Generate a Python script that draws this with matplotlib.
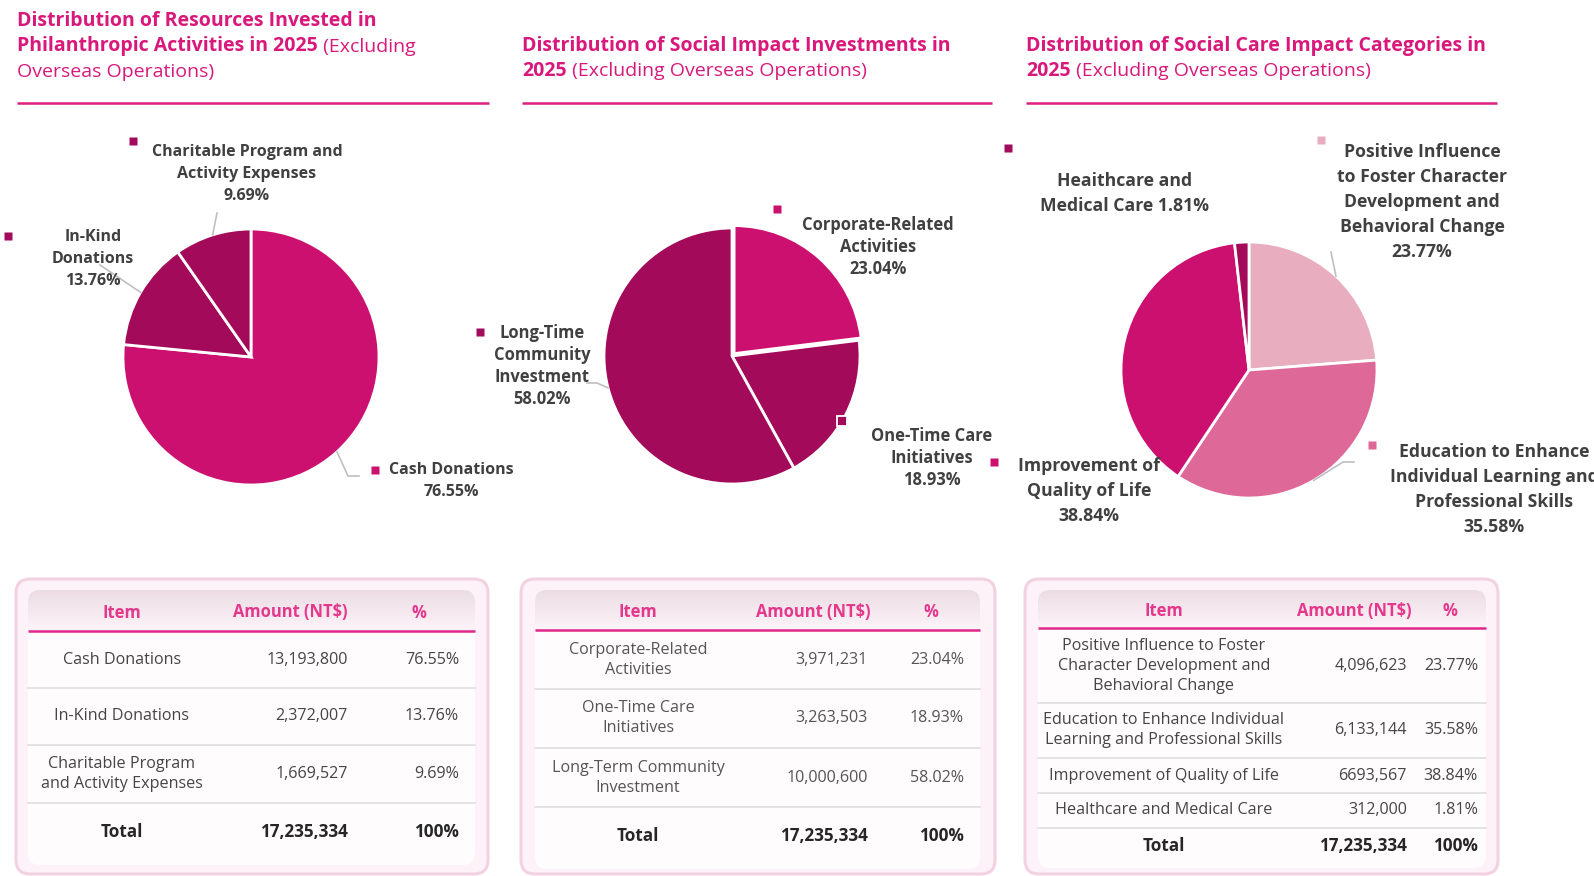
import matplotlib
matplotlib.use('Agg')
import matplotlib.pyplot as plt
import numpy as np
from matplotlib.patches import FancyBboxPatch

plt.rcParams['font.family'] = ['Open Sans', 'DejaVu Sans']

W, H = 1594, 876

# ---- data ----
res_rows = ['Cash Donations', 'In-Kind Donations', 'Charitable Program\nand Activity Expenses']
res_labels = ['Cash Donations', 'In-Kind\nDonations', 'Charitable Program and\nActivity Expenses']
res_amounts = ['13,193,800', '2,372,007', '1,669,527']
res_pcts = [76.55, 13.76, 9.69]

soc_rows = ['Corporate-Related\nActivities', 'One-Time Care\nInitiatives', 'Long-Term Community\nInvestment']
soc_labels = ['Corporate-Related\nActivities', 'One-Time Care\nInitiatives', 'Long-Time\nCommunity\nInvestment']
soc_amounts = ['3,971,231', '3,263,503', '10,000,600']
soc_pcts = [23.04, 18.93, 58.02]

care_rows = ['Positive Influence to Foster\nCharacter Development and\nBehavioral Change',
             'Education to Enhance Individual\nLearning and Professional Skills',
             'Improvement of Quality of Life', 'Healthcare and Medical Care']
care_labels = ['Positive Influence\nto Foster Character\nDevelopment and\nBehavioral Change',
               'Education to Enhance\nIndividual Learning and\nProfessional Skills',
               'Improvement of\nQuality of Life', 'Heaithcare and\nMedical Care']
care_amounts = ['4,096,623', '6,133,144', '6693,567', '312,000']
care_pcts = [23.77, 35.58, 38.84, 1.81]

total_amount = '17,235,334'
total_pct = '100%'
headers = ['Item', 'Amount (NT$)', '%']

MAG = '#CC1070'
DARK = '#A30A5A'
res_colors = [MAG, DARK, DARK]
soc_colors = [MAG, DARK, DARK]
care_colors = ['#E8AEC0', '#DE6898', MAG, DARK]

TITLE_C = '#D9187B'
HDR_C = '#E4388C'
LBL_C = '#404040'
LEAD_C = '#BFBFBF'

fig = plt.figure(figsize=(W / 100, H / 100), dpi=100)


def pie_at(cx, cy, r, vals, colors, explode=None):
    pad = 1.1
    a = fig.add_axes([(cx - r * pad) / W, 1 - (cy + r * pad) / H, 2 * r * pad / W, 2 * r * pad / H])
    a.pie(vals, colors=colors, startangle=90, counterclock=False, explode=explode,
          wedgeprops=dict(edgecolor='white', linewidth=2))
    a.set_xlim(-pad, pad)
    a.set_ylim(-pad, pad)
    a.set_aspect('equal')
    a.axis('off')
    return a


def edge_pt(cx, cy, r, vals, i):
    fr = np.array(vals) / sum(vals)
    m = np.cumsum(fr)[i] - fr[i] / 2
    ang = np.deg2rad(90 - 360 * m)
    return cx + r * np.cos(ang), cy - r * np.sin(ang)


P1 = (251, 357, 128)
P2 = (732, 356, 128)
P3 = (1249, 370, 128)
pie_at(*P1, res_pcts, res_colors)
pie_at(*P2, soc_pcts, soc_colors, explode=[0.025, 0, 0])
pie_at(*P3, care_pcts, care_colors)

ax = fig.add_axes([0, 0, 1, 1])
ax.set_xlim(0, W)
ax.set_ylim(H, 0)
ax.axis('off')
renderer = fig.canvas.get_renderer()


def lines_text(x, y0, text, step, **kw):
    for i, ln in enumerate(text.split('\n')):
        ax.text(x, y0 + i * step, ln, ha='center', va='center', **kw)


def title(x, y0, lines, x1):
    for i, parts in enumerate(lines):
        cx = x
        y = y0 + i * 25.5
        for txt, wt in parts:
            t = ax.text(cx, y, txt, fontsize=14, fontweight=wt, color=TITLE_C,
                        ha='left', va='center')
            bb = t.get_window_extent(renderer)
            cx = ax.transData.inverted().transform((bb.x1, bb.y1))[0]
    ax.plot([x, x1], [103, 103], color='#DE1F80', lw=1.8, solid_capstyle='butt')


title(17, 21, [[('Distribution of Resources Invested in', 'bold')],
               [('Philanthropic Activities in 2025', 'bold'), (' (Excluding', 'normal')],
               [('Overseas Operations)', 'normal')]], 489)
title(522, 46, [[('Distribution of Social Impact Investments in', 'bold')],
                [('2025', 'bold'), (' (Excluding Overseas Operations)', 'normal')]], 992)
title(1026, 46, [[('Distribution of Social Care Impact Categories in', 'bold')],
                 [('2025', 'bold'), (' (Excluding Overseas Operations)', 'normal')]], 1497)


def marker(x, y, c, edge=False):
    if edge:
        ax.plot([x], [y], marker='s', ms=6.5, color=c, mec='white', mew=1.3)
    else:
        ax.plot([x], [y], marker='s', ms=5.5, color=c, mec='none')


def leader(p, *pts):
    xs = [p[0]] + [q[0] for q in pts]
    ys = [p[1]] + [q[1] for q in pts]
    ax.plot(xs, ys, color=LEAD_C, lw=1.2)


lbl1 = dict(fontsize=11.5, fontweight='bold', color=LBL_C)
lbl2 = dict(fontsize=11.9, fontweight='bold', color=LBL_C)
lbl3 = dict(fontsize=12.7, fontweight='bold', color=LBL_C)

# pie 1 labels
lines_text(451, 470, f'{res_labels[0]}\n{res_pcts[0]:.2f}%', 22, **lbl1)
marker(375, 470, res_colors[0])
leader(edge_pt(*P1, res_pcts, 0), (348, 476), (359, 476))
lines_text(93, 237, f'{res_labels[1]}\n{res_pcts[1]:.2f}%', 22, **lbl1)
marker(8, 236, res_colors[1])
leader(edge_pt(*P1, res_pcts, 1), (100, 265))
lines_text(247, 152, f'{res_labels[2]}\n{res_pcts[2]:.2f}%', 22, **lbl1)
marker(133, 141, res_colors[2])
leader(edge_pt(*P1, res_pcts, 2), (217, 213))

# pie 2 labels
lines_text(878, 225, f'{soc_labels[0]}\n{soc_pcts[0]:.2f}%', 22, **lbl2)
marker(777, 209, soc_colors[0])
lines_text(932, 436, f'{soc_labels[1]}\n{soc_pcts[1]:.2f}%', 22, **lbl2)
marker(842, 421, soc_colors[1], edge=True)
lines_text(542, 333, f'{soc_labels[2]}\n{soc_pcts[2]:.2f}%', 22, **lbl2)
marker(480, 332, soc_colors[2])
leader(edge_pt(*P2, soc_pcts, 2), (597, 383), (587, 383))

# pie 3 labels
lines_text(1422, 152, f'{care_labels[0]}\n{care_pcts[0]:.2f}%', 25, **lbl3)
marker(1321, 140, care_colors[0])
leader(edge_pt(*P3, care_pcts, 0), (1331, 252))
lines_text(1494, 452, f'{care_labels[1]}\n{care_pcts[1]:.2f}%', 25, **lbl3)
marker(1372, 445, care_colors[1])
leader(edge_pt(*P3, care_pcts, 1), (1343, 462), (1354, 462))
lines_text(1089, 466, f'{care_labels[2]}\n{care_pcts[2]:.2f}%', 25, **lbl3)
marker(994, 462, care_colors[2])
lines_text(1125, 181, f'{care_labels[3]} {care_pcts[3]:.2f}%', 25, **lbl3)
marker(1008, 148, care_colors[3])


# ---- tables ----
def table(box, inner, hdr_top, hdr_line, seps, bottom, cols, rows, amounts, pcts, txt_c):
    bx0, by0, bx1, by1 = box
    ix0, ix1 = inner
    ax.add_patch(FancyBboxPatch((bx0, by0), bx1 - bx0, by1 - by0,
                                boxstyle='round,pad=0,rounding_size=14',
                                fc='#FCF2F7', ec='#F2D2E1', lw=2.2, zorder=1))
    ax.add_patch(FancyBboxPatch((ix0, hdr_top), ix1 - ix0, bottom + 4 - hdr_top,
                                boxstyle='round,pad=0,rounding_size=12',
                                fc='#FFFCFD', ec='none', zorder=1.5))
    clip = FancyBboxPatch((ix0, hdr_top), ix1 - ix0, hdr_line - hdr_top + 12,
                          boxstyle='round,pad=0,rounding_size=12', fc='none', ec='none')
    ax.add_patch(clip)
    grad = np.linspace(0, 1, 64)[:, None]
    top = np.array([0.925, 0.865, 0.895])
    bot = np.array([0.990, 0.955, 0.972])
    img = top + (bot - top) * grad[..., None]
    img = np.repeat(img, 2, axis=1)
    im = ax.imshow(img, extent=(ix0, ix1, hdr_line, hdr_top), origin='upper',
                   aspect='auto', zorder=2, interpolation='bilinear')
    im.set_clip_path(clip)
    ax.set_xlim(0, W)
    ax.set_ylim(H, 0)
    ax.plot([ix0, ix1], [hdr_line, hdr_line], color='#E0268A', lw=1.8, zorder=3,
            solid_capstyle='butt')
    for s in seps:
        ax.plot([ix0, ix1], [s, s], color='#DCDCDC', lw=1.1, zorder=3)

    c_item, c_amt_h, c_amt_r, c_pct_h, c_pct_r = cols
    hy = (hdr_top + hdr_line) / 2 + 2
    hk = dict(fontsize=11.9, fontweight='bold', color=HDR_C, ha='center', va='center', zorder=4)
    ax.text(c_item, hy, headers[0], **hk)
    ax.text(c_amt_h, hy, headers[1], **hk)
    ax.text(c_pct_h, hy, headers[2], **hk)

    edges = [hdr_line] + list(seps) + [bottom]
    rk = dict(fontsize=11.6, color=txt_c, va='center', zorder=4)
    for i, (name, amt, p) in enumerate(zip(rows, amounts, pcts)):
        yc = (edges[i] + edges[i + 1]) / 2
        n = name.count('\n') + 1
        for j, ln in enumerate(name.split('\n')):
            ax.text(c_item, yc + (j - (n - 1) / 2) * 20, ln, ha='center', **rk)
        ax.text(c_amt_r, yc, amt, ha='right', **rk)
        ax.text(c_pct_r, yc, f'{p:.2f}%', ha='right', **rk)
    yc = (edges[-2] + edges[-1]) / 2
    tk = dict(fontsize=12.3, fontweight='bold', color='#262626', va='center', zorder=4)
    ax.text(c_item, yc, 'Total', ha='center', **tk)
    ax.text(c_amt_r, yc, total_amount, ha='right', **tk)
    ax.text(c_pct_r, yc, total_pct, ha='right', **tk)


table((16, 579, 488, 874), (28, 475), 590, 631, [688, 745, 803], 861,
      (122, 290, 348, 419, 459), res_rows, res_amounts, res_pcts, '#454545')
table((521, 579, 995, 874), (535, 980), 590, 630, [689, 748, 807], 865,
      (638, 813, 868, 931, 964), soc_rows, soc_amounts, soc_pcts, '#555555')
table((1025, 579, 1498, 874), (1038, 1486), 590, 628, [703, 758, 793, 828], 864,
      (1164, 1354, 1407, 1450, 1478), care_rows, care_amounts, care_pcts, '#454545')

fig.savefig('out.png', dpi=100)
